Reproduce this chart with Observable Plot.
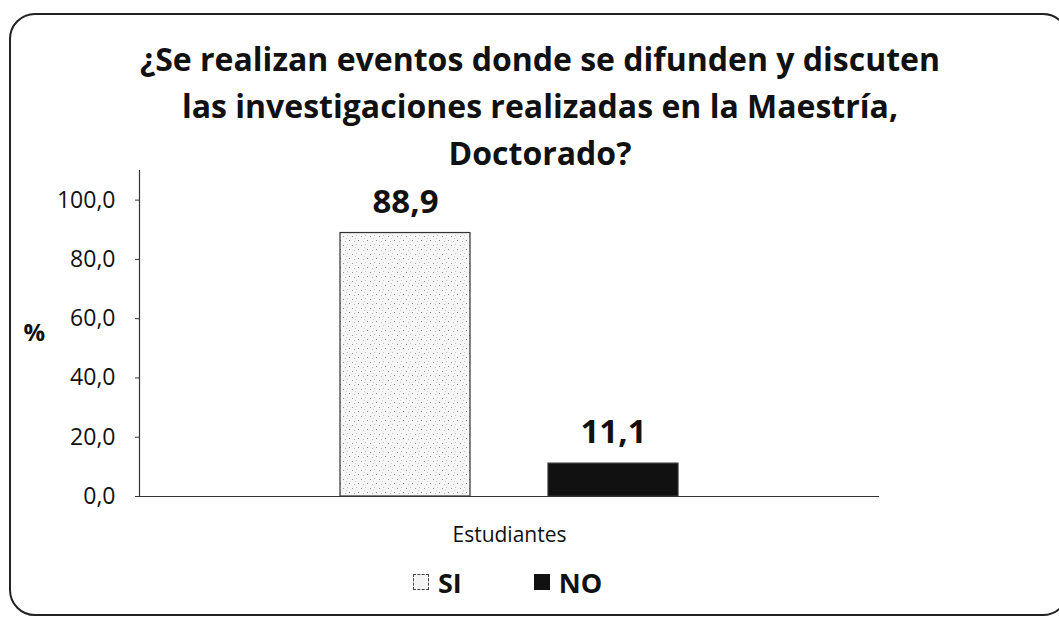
<!DOCTYPE html>
<html><head><meta charset="utf-8">
<script src="https://cdn.jsdelivr.net/npm/d3@7"></script>
<script src="https://cdn.jsdelivr.net/npm/@observablehq/plot@0.6"></script>
<style>
body{margin:0;background:#fff;}
#wrap{position:relative;width:1059px;height:620px;overflow:hidden;font-family:"Open Sans",sans-serif;color:#111;}
#frame{position:absolute;left:9px;top:13px;width:1060px;height:603px;border:2px solid #222;border-radius:26px;box-sizing:border-box;}
#title{position:absolute;left:0;width:1080px;top:35px;text-align:center;font-weight:700;font-size:32px;line-height:47px;}
#chart{position:absolute;left:0;top:0;}
#legend{position:absolute;left:413px;top:566px;height:32px;display:flex;align-items:center;font-weight:700;font-size:27px;}
.sw{display:inline-block;width:16px;height:16px;box-sizing:border-box;margin-right:9px;}
</style></head>
<body>
<div id="wrap">
  <div id="frame"></div>
  <div id="chart"></div>
  <div id="title"></div>
  <div id="legend"></div>
</div>
<script>
const titleLines = ["¿Se realizan eventos donde se difunden y discuten", "las investigaciones realizadas en la Maestría,", "Doctorado?"];
const categories = ["SI", "NO"];
const values = [88.9, 11.1];
const yTicks = [0, 20, 40, 60, 80, 100];
const xLabel = "Estudiantes";
const yLabel = "%";

const fmt = d => d.toFixed(1).replace(".", ",");
const fills = {SI: "url(#dots)", NO: "#111"};
const data = categories.map((c, i) => ({cat: c, value: values[i]}));

document.getElementById("title").innerHTML = titleLines.map(t => `<div>${t}</div>`).join("");

const chart = Plot.plot({
  width: 1059, height: 620,
  marginLeft: 139, marginRight: 180, marginTop: 170, marginBottom: 124,
  style: {fontFamily: "'Open Sans', sans-serif", color: "#111", background: "transparent"},
  x: {domain: categories, paddingInner: 0.375, paddingOuter: 0.966, axis: null},
  y: {domain: [0, 110], axis: null},
  color: {type: "identity"},
  marks: [
    Plot.barY(data, {x: "cat", y: "value", fill: d => fills[d.cat], stroke: "#333", strokeWidth: 1.2}),
    Plot.ruleY([0], {stroke: "#333", strokeWidth: 1.2}),
    Plot.frame({anchor: "left", stroke: "#333", strokeWidth: 1.2}),
    Plot.axisY(yTicks, {tickSize: 4, tickPadding: 20, tickFormat: fmt, fontSize: 23, label: null, stroke: "#333"}),
    Plot.text(data, {x: "cat", y: "value", text: d => fmt(d.value), dy: -31, fontSize: 33, fontWeight: "bold", lineAnchor: "middle"}),
    Plot.text([yLabel], {frameAnchor: "left", dx: -116, textAnchor: "start", fontSize: 24, fontWeight: "bold"}),
    Plot.text([xLabel], {frameAnchor: "bottom", dy: 39, lineAnchor: "middle", fontSize: 21})
  ]
});

// dotted pattern for the SI bar
const defs = d3.select(chart).insert("defs", ":first-child");
const pat = defs.append("pattern").attr("id", "dots").attr("width", 9).attr("height", 9).attr("patternUnits", "userSpaceOnUse");
pat.append("rect").attr("width", 9).attr("height", 9).attr("fill", "#f6f6f6");
[[1,2,"#9a9a9a"],[5,1,"#c4c4c4"],[7,6,"#8a8a8a"],[3,7,"#bbbbbb"],[4,4,"#d0d0d0"]].forEach(([x,y,c]) =>
  pat.append("rect").attr("x", x).attr("y", y).attr("width", 1).attr("height", 1).attr("fill", c));

document.getElementById("chart").appendChild(chart);

// legend
const leg = document.getElementById("legend");
categories.forEach((c, i) => {
  const item = document.createElement("span");
  item.style.display = "inline-flex";
  item.style.alignItems = "center";
  if (i > 0) item.style.marginLeft = "72px";
  const sw = document.createElement("span");
  sw.className = "sw";
  sw.style.background = c === "SI" ? "#f4f4f4" : "#111";
  sw.style.border = c === "SI" ? "1px dashed #444" : "1px solid #111";
  item.appendChild(sw);
  const t = document.createElement("span");
  t.textContent = c;
  item.appendChild(t);
  leg.appendChild(item);
});
</script>
</body></html>
